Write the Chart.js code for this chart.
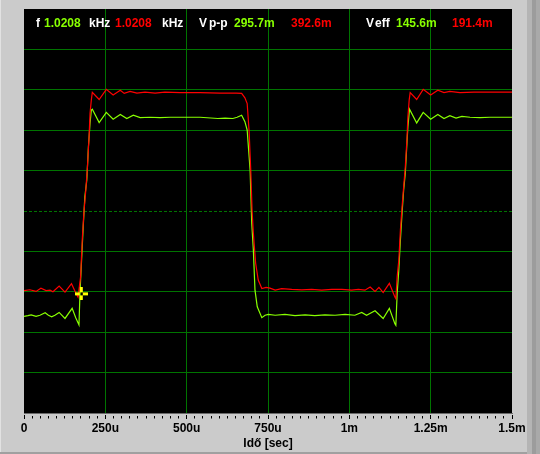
<!DOCTYPE html>
<html>
<head>
<meta charset="utf-8">
<script src="https://cdn.jsdelivr.net/npm/chart.js@4"></script>
<style>
  html, body { margin: 0; padding: 0; background: #cbcbcb; }
  canvas { display: block; }
</style>
</head>
<body>
<canvas id="scope" width="540" height="454"></canvas>
<script>
// time in microseconds, amplitude in screen divisions (10 div high, 0 = centre line)
const redTime = [0, 18, 37, 52, 68, 80, 89, 108, 126, 146, 161, 166, 174, 179, 184, 190, 195, 200, 203, 207,
  210, 231, 253, 274, 296, 308, 326, 347, 372, 403, 433, 480, 541, 602, 652, 669, 679, 686, 692, 697,
  701, 705, 712, 720, 731, 744, 756, 772, 792, 823, 854, 884, 915, 946, 977, 1007, 1028, 1048, 1064, 1079,
  1091, 1104, 1123, 1140, 1143, 1147, 1152, 1157, 1162, 1167, 1172, 1177, 1180, 1184, 1187, 1207, 1227, 1250, 1272, 1291,
  1309, 1340, 1383, 1432, 1500];
const redVolt = [-1.97, -1.95, -1.99, -1.91, -1.97, -1.96, -2.00, -1.86, -2.01, -1.80, -2.06, -2.13, -1.63, -0.72, -0.05, 0.52, 1.09, 1.84, 2.42, 2.75,
  2.94, 2.76, 3.01, 2.87, 2.99, 2.91, 2.96, 2.92, 2.94, 2.92, 2.94, 2.93, 2.93, 2.92, 2.92, 2.91, 2.80, 2.66, 1.96, 1.01,
  0.02, -0.55, -1.29, -1.71, -1.92, -1.89, -1.91, -1.96, -1.92, -1.94, -1.95, -1.94, -1.96, -1.94, -1.94, -1.96, -1.94, -1.96, -1.88, -1.99,
  -1.89, -2.02, -1.79, -2.13, -2.17, -1.63, -1.22, -0.47, 0.10, 0.60, 1.09, 1.76, 2.33, 2.75, 2.93, 2.76, 3.01, 2.87, 2.99, 2.93,
  2.96, 2.93, 2.94, 2.94, 2.94];

const greenTime = [0, 12, 22, 37, 49, 65, 75, 85, 95, 108, 126, 148, 159, 169, 172, 176, 182, 187, 193, 198,
  203, 207, 210, 231, 253, 274, 296, 316, 336, 357, 387, 418, 449, 495, 541, 596, 618, 642, 655, 669,
  679, 686, 695, 700, 705, 710, 717, 731, 741, 751, 772, 802, 833, 864, 894, 925, 956, 987, 1017, 1038,
  1053, 1079, 1104, 1123, 1140, 1143, 1147, 1152, 1157, 1162, 1167, 1172, 1177, 1180, 1185, 1207, 1227, 1250, 1272, 1291,
  1309, 1328, 1346, 1371, 1402, 1432, 1500];
const greenVolt = [-2.61, -2.59, -2.57, -2.61, -2.58, -2.52, -2.58, -2.62, -2.58, -2.51, -2.66, -2.41, -2.64, -2.82, -2.04, -1.38, -0.39, 0.35, 0.76, 1.59,
  2.17, 2.50, 2.52, 2.19, 2.44, 2.27, 2.39, 2.29, 2.37, 2.31, 2.32, 2.31, 2.32, 2.32, 2.32, 2.29, 2.30, 2.29, 2.32, 2.37,
  2.21, 2.00, 1.01, -0.30, -0.97, -1.96, -2.37, -2.64, -2.58, -2.56, -2.58, -2.56, -2.59, -2.57, -2.59, -2.57, -2.58, -2.56, -2.58, -2.51,
  -2.58, -2.47, -2.66, -2.41, -2.79, -2.83, -2.04, -1.47, -0.72, -0.06, 0.52, 0.93, 1.67, 2.08, 2.52, 2.18, 2.44, 2.27, 2.39, 2.29,
  2.36, 2.30, 2.34, 2.32, 2.31, 2.32, 2.32];

const cursorTime = [176];
const cursorVolt = [-2.05];

const xTickValues = [0, 250, 500, 750, 1000, 1250, 1500];
const xTickLabels = ['0', '250u', '500u', '750u', '1m', '1.25m', '1.5m'];

// readout line on top of the screen
const readoutTexts = ['f', '1.0208', 'kHz', '1.0208', 'kHz', 'V', 'p-p', '295.7m', '392.6m', 'V', 'eff', '145.6m', '191.4m'];
const readoutKinds = ['label', 'green', 'label', 'red', 'label', 'label', 'label', 'green', 'red', 'label', 'label', 'green', 'red'];

const GRID = '#007400';
const GREEN = '#88ff00';
const RED = '#ff0000';
const FONT = '"Liberation Sans", Arial, sans-serif';

const toPoints = (ts, vs) => ts.map((t, i) => ({ x: t, y: vs[i] }));

// yellow cursor cross (4 arms, open centre)
function makeCursor() {
  const c = document.createElement('canvas');
  c.width = 13; c.height = 13;
  const g = c.getContext('2d');
  g.fillStyle = '#ffff00';
  g.fillRect(0, 5, 5, 3);
  g.fillRect(8, 5, 5, 3);
  g.fillRect(5, 0, 3, 5);
  g.fillRect(5, 8, 3, 5);
  return c;
}

const scopeFrame = {
  id: 'scopeFrame',
  beforeDraw(chart) {
    const { ctx, chartArea: a, width, height } = chart;
    ctx.save();
    ctx.fillStyle = '#cbcbcb';
    ctx.fillRect(0, 0, width, height);
    ctx.fillStyle = '#e2e2e2';
    ctx.fillRect(0, 0, 1, height);
    ctx.fillStyle = '#b4b4b4';
    ctx.fillRect(527, 0, 5, height);
    ctx.fillStyle = '#9c9c9c';
    ctx.fillRect(532, 0, 4, height);
    ctx.fillStyle = '#a9a9a9';
    ctx.fillRect(536, 0, 4, height);
    ctx.fillStyle = '#a0a0a0';
    ctx.fillRect(0, height - 2, 527, 2);
    ctx.fillStyle = '#000';
    ctx.fillRect(a.left, a.top, a.right - a.left, a.bottom - a.top);
    ctx.restore();
  },
  afterDraw(chart) {
    const ctx = chart.ctx;
    const xs = [36, 44, 89, 115, 162, 199, 209, 234, 291, 366, 375, 396, 452];
    ctx.save();
    ctx.font = 'bold 12px ' + FONT;
    ctx.textBaseline = 'alphabetic';
    readoutTexts.forEach((t, i) => {
      const k = readoutKinds[i];
      ctx.fillStyle = k === 'green' ? GREEN : (k === 'red' ? RED : '#ffffff');
      ctx.fillText(t, xs[i], 27);
    });
    ctx.restore();
  }
};

const isMajor = v => xTickValues.indexOf(Math.round(v)) >= 0;

new Chart(document.getElementById('scope'), {
  type: 'line',
  data: {
    datasets: [
      {
        label: 'cursor',
        data: toPoints(cursorTime, cursorVolt),
        showLine: false,
        pointStyle: makeCursor(),
        pointRadius: 6
      },
      {
        label: 'ch2',
        data: toPoints(redTime, redVolt),
        borderColor: RED,
        borderWidth: 1.2,
        pointRadius: 0,
        tension: 0
      },
      {
        label: 'ch1',
        data: toPoints(greenTime, greenVolt),
        borderColor: GREEN,
        borderWidth: 1.2,
        pointRadius: 0,
        tension: 0
      }
    ]
  },
  options: {
    responsive: false,
    animation: false,
    devicePixelRatio: 1,
    events: [],
    layout: { padding: { left: 24, right: 28, top: 9, bottom: 0 } },
    plugins: {
      legend: { display: false },
      tooltip: { enabled: false }
    },
    scales: {
      x: {
        type: 'linear',
        min: 0,
        max: 1500,
        afterFit: s => { s.height = 41; },
        border: { display: true, color: '#6a6a6a', width: 1 },
        grid: {
          color: c => (isMajor(c.tick.value) && c.tick.value > 0 && c.tick.value < 1500) ? GRID : 'rgba(0,0,0,0)',
          lineWidth: 1,
          tickColor: '#000',
          tickLength: 6,
          tickBorderDash: c => isMajor(c.tick.value) ? [0, 1, 4.5, 20] : [0, 2, 2.5, 20]
        },
        ticks: {
          stepSize: 25,
          autoSkip: false,
          maxRotation: 0,
          maxTicksLimit: 100,
          padding: 2,
          color: '#000',
          font: { family: FONT, size: 12, weight: 'bold' },
          callback: v => {
            const i = xTickValues.indexOf(Math.round(v));
            return i >= 0 ? xTickLabels[i] : '';
          }
        },
        title: {
          display: true,
          text: 'Idő [sec]',
          color: '#000',
          font: { family: FONT, size: 12, weight: 'bold' },
          padding: { top: 0, bottom: 3 }
        }
      },
      y: {
        min: -5,
        max: 5,
        afterFit: s => { s.width = 0; },
        border: { display: false, dash: c => (c.tick && c.tick.value === 0) ? [3, 2] : [] },
        grid: {
          color: c => (c.tick.value > -5 && c.tick.value < 5) ? GRID : 'rgba(0,0,0,0)',
          lineWidth: 1,
          drawTicks: false
        },
        ticks: { stepSize: 1, display: false }
      }
    }
  },
  plugins: [scopeFrame]
});
</script>
</body>
</html>
